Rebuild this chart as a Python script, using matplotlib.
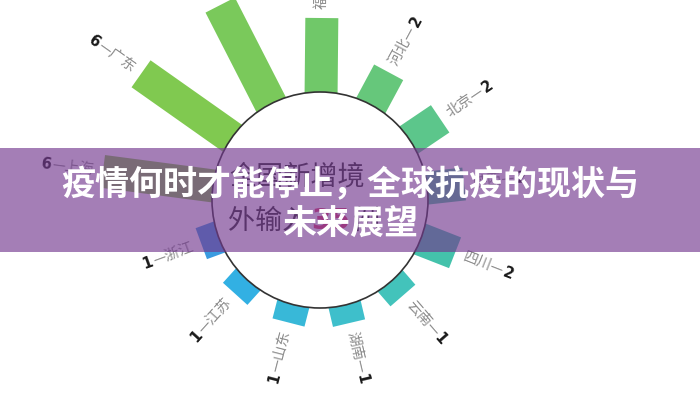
import numpy as np
import matplotlib.pyplot as plt
from matplotlib.patches import Circle
from matplotlib.font_manager import FontProperties

# 数据（顺时针，从左侧开始，按病例数从大到小）
provinces = ["上海", "广东", "天津", "福建", "河北", "北京", "陕西",
             "四川", "云南", "湖南", "山东", "江苏", "浙江"]
cases = [6, 6, 6, 4, 2, 2, 2, 2, 1, 1, 1, 1, 1]
bar_colors = ["#86c84a", "#80c950", "#7ac95b", "#70c869", "#66c77b", "#5cc68b",
              "#4fc39b", "#44c2ab", "#43c3bb", "#3ebfcb", "#38b8d8", "#32b0e3",
              "#3a9be0"]
title_lines = ["疫情何时才能停止，全球抗疫的现状与", "未来展望"]
center_top = "全国新增境"
center_bottom = ["外输入", str(sum(cases)), "例"]

CJK = ["Noto Sans CJK SC", "DejaVu Sans"]
plt.rcParams["font.family"] = CJK

# 布局：数据单位 = 像素，原点在圆心
CX, CY = 320, 200
R0 = 108          # 内圆半径
SCALE = 18.5      # 每例对应的长度
BAR_W = 33
START = -82.5     # 第一根柱子的角度（自正北顺时针）
step = 360 / len(cases)

fig = plt.figure(figsize=(7, 4), dpi=100)
ax = fig.add_axes([0, 0, 1, 1])
ax.set_xlim(-CX, 700 - CX)
ax.set_ylim(-(400 - CY), CY)
ax.axis("off")
renderer = fig.canvas.get_renderer()

fp_name = FontProperties(family=CJK, size=10.5)
fp_num = FontProperties(family="DejaVu Sans", size=10.5, weight="bold")

for i, (p, v, c) in enumerate(zip(provinces, cases, bar_colors)):
    deg = (START + i * step) % 360
    t = np.deg2rad(deg)
    u = np.array([np.sin(t), np.cos(t)])
    n = np.array([np.cos(t), -np.sin(t)])
    r_in = R0 - 8
    r_out = R0 + SCALE * v
    pts = np.array([r_in * u + n * BAR_W / 2, r_out * u + n * BAR_W / 2,
                    r_out * u - n * BAR_W / 2, r_in * u - n * BAR_W / 2])
    ax.fill(pts[:, 0], pts[:, 1], color=c, lw=0, zorder=2)

    # 标签
    if deg < 180:
        s, rot, ha = p + "—", 90 - deg, "left"
    else:
        s, rot, ha = "—" + p, 270 - deg, "right"
    r_lab = r_out + 9
    w = renderer.get_text_width_height_descent(s, fp_name, ismath=False)[0]
    ax.text(*(r_lab * u), s, rotation=rot, rotation_mode="anchor", ha=ha,
            va="center", color="#8c8c8c", fontproperties=fp_name, zorder=3)
    r_num = r_lab + w + 1
    ax.text(*(r_num * u), str(v), rotation=rot, rotation_mode="anchor", ha=ha,
            va="center", color="#1a1a1a", fontproperties=fp_num, zorder=3)

# 中心圆
ax.add_patch(Circle((0, 0), R0, fc="white", ec="#333333", lw=1.2, zorder=3))

# 中心文字
fp_c = FontProperties(family=CJK, size=19.5)
fp_c_num = FontProperties(family="DejaVu Sans", size=20, weight="bold")
ax.text(-23, 23, center_top, ha="center", va="center", color="#2b2b2b",
        fontproperties=fp_c, zorder=4)
x = -92
for part, fp, col in zip(center_bottom, [fp_c, fp_c_num, fp_c],
                         ["#2b2b2b", "#e03b6a", "#2b2b2b"]):
    ax.text(x, -21, part, ha="left", va="center", color=col,
            fontproperties=fp, zorder=4)
    x += renderer.get_text_width_height_descent(part, fp, ismath=False)[0] + 2

# 标题横幅
ax.axhspan(-52, 52, color="#73398f", alpha=0.65, lw=0, zorder=5)
fp_t = FontProperties(family=CJK, size=24.5, weight="bold")
fig.text(0.5, 1 - 185 / 400, title_lines[0], ha="center", va="center",
         color="white", fontproperties=fp_t, zorder=6)
fig.text(0.5, 1 - 223 / 400, title_lines[1], ha="center", va="center",
         color="white", fontproperties=fp_t, zorder=6)

fig.savefig("out.png", dpi=100)
